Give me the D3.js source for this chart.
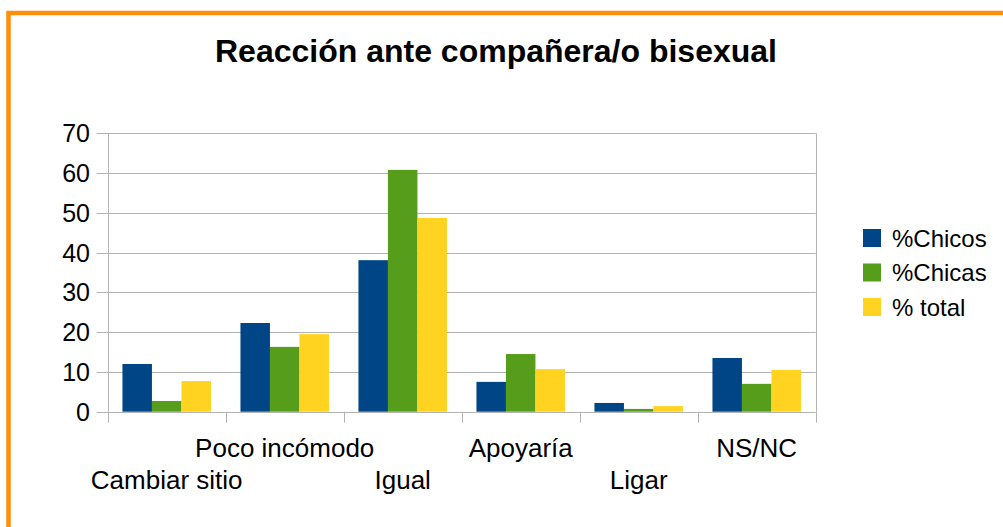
<!DOCTYPE html>
<html>
<head>
<meta charset="utf-8">
<script src="https://cdn.jsdelivr.net/npm/d3@7"></script>
<style>
  body { margin: 0; background: #fff; }
  text { font-family: "Liberation Sans", Arial, sans-serif; fill: #000; }
</style>
</head>
<body>
<div id="chart"></div>
<script>
var categories = ["Cambiar sitio", "Poco incómodo", "Igual", "Apoyaría", "Ligar", "NS/NC"];
var seriesNames = ["%Chicos", "%Chicas", "% total"];
var chicos = [12.0, 22.3, 38.1, 7.5, 2.2, 13.5];
var chicas = [2.7, 16.3, 60.8, 14.5, 0.7, 7.0];
var total = [7.7, 19.5, 48.7, 10.7, 1.4, 10.5];
var yTicks = [0, 10, 20, 30, 40, 50, 60, 70];
var colors = ["#004586", "#579d1c", "#ffd320"];

var series = [chicos, chicas, total];

var width = 1003, height = 527;
var plotLeft = 107.7, plotRight = 815.7, plotTop = 133.3, plotBottom = 411.7;

var svg = d3.select("#chart")
    .append("svg")
    .attr("width", width)
    .attr("height", height);

// orange frame
svg.append("rect")
    .attr("x", 8.5)
    .attr("y", 13)
    .attr("width", width + 20)
    .attr("height", height + 20)
    .attr("fill", "none")
    .attr("stroke", "#ff8f0a")
    .attr("stroke-width", 4.5);

var x = d3.scaleBand()
    .domain(categories)
    .range([plotLeft, plotRight])
    .paddingInner(0.25)
    .paddingOuter(0.125);

var xEdge = d3.scaleLinear()
    .domain([0, categories.length])
    .range([plotLeft, plotRight]);

var x1 = d3.scaleBand()
    .domain(d3.range(series.length))
    .range([0, x.bandwidth()]);

var y = d3.scaleLinear()
    .domain([0, 70])
    .range([plotBottom, plotTop]);

// gridlines
svg.selectAll(".grid")
    .data(yTicks)
    .enter().append("line")
    .attr("class", "grid")
    .attr("x1", plotLeft - 11)
    .attr("x2", plotRight)
    .attr("y1", function(d) { return Math.round(y(d)) + 0.5; })
    .attr("y2", function(d) { return Math.round(y(d)) + 0.5; })
    .attr("stroke", "#b3b3b3")
    .attr("stroke-width", 1);

// frame lines left / right
[plotLeft, plotRight].forEach(function(xx) {
    svg.append("line")
        .attr("x1", Math.round(xx) + 0.5)
        .attr("x2", Math.round(xx) + 0.5)
        .attr("y1", y(70))
        .attr("y2", y(0))
        .attr("stroke", "#b3b3b3");
});

// category tick marks
svg.selectAll(".xtick")
    .data(d3.range(categories.length + 1))
    .enter().append("line")
    .attr("class", "xtick")
    .attr("x1", function(d) { return Math.round(xEdge(d)) + 0.5; })
    .attr("x2", function(d) { return Math.round(xEdge(d)) + 0.5; })
    .attr("y1", y(0))
    .attr("y2", y(0) + 11)
    .attr("stroke", "#b3b3b3");

// bars
var groups = svg.selectAll(".group")
    .data(categories)
    .enter().append("g")
    .attr("class", "group")
    .attr("transform", function(d) { return "translate(" + x(d) + ",0)"; });

groups.selectAll("rect")
    .data(function(d, i) { return series.map(function(s, k) { return { k: k, v: s[i] }; }); })
    .enter().append("rect")
    .attr("x", function(d) { return x1(d.k); })
    .attr("y", function(d) { return y(d.v); })
    .attr("width", x1.bandwidth())
    .attr("height", function(d) { return y(0) - y(d.v); })
    .attr("fill", function(d) { return colors[d.k]; });

// y labels
svg.selectAll(".ylab")
    .data(yTicks)
    .enter().append("text")
    .attr("class", "ylab")
    .attr("text-anchor", "end")
    .attr("font-size", 25)
    .attr("x", 90)
    .attr("y", function(d) { return y(d) + 9; })
    .text(function(d) { return d; });

// x labels, staggered
svg.selectAll(".xlab")
    .data(categories)
    .enter().append("text")
    .attr("class", "xlab")
    .attr("text-anchor", "middle")
    .attr("font-size", 26)
    .attr("x", function(d) { return x(d) + x.bandwidth() / 2; })
    .attr("y", function(d, i) { return i % 2 === 0 ? 489 : 457; })
    .text(function(d) { return d; });

// title
svg.append("text")
    .attr("text-anchor", "middle")
    .attr("font-size", 32)
    .attr("font-weight", "bold")
    .attr("x", 496)
    .attr("y", 62)
    .text("Reacción ante compañera/o bisexual");

// legend
var legend = svg.selectAll(".legend")
    .data(seriesNames)
    .enter().append("g")
    .attr("class", "legend")
    .attr("transform", function(d, i) { return "translate(863," + (229 + i * 34.5) + ")"; });

legend.append("rect")
    .attr("width", 18)
    .attr("height", 18)
    .attr("fill", function(d, i) { return colors[i]; });

legend.append("text")
    .attr("font-size", 24)
    .attr("x", 29)
    .attr("y", 17.5)
    .text(function(d) { return d; });
</script>
</body>
</html>
